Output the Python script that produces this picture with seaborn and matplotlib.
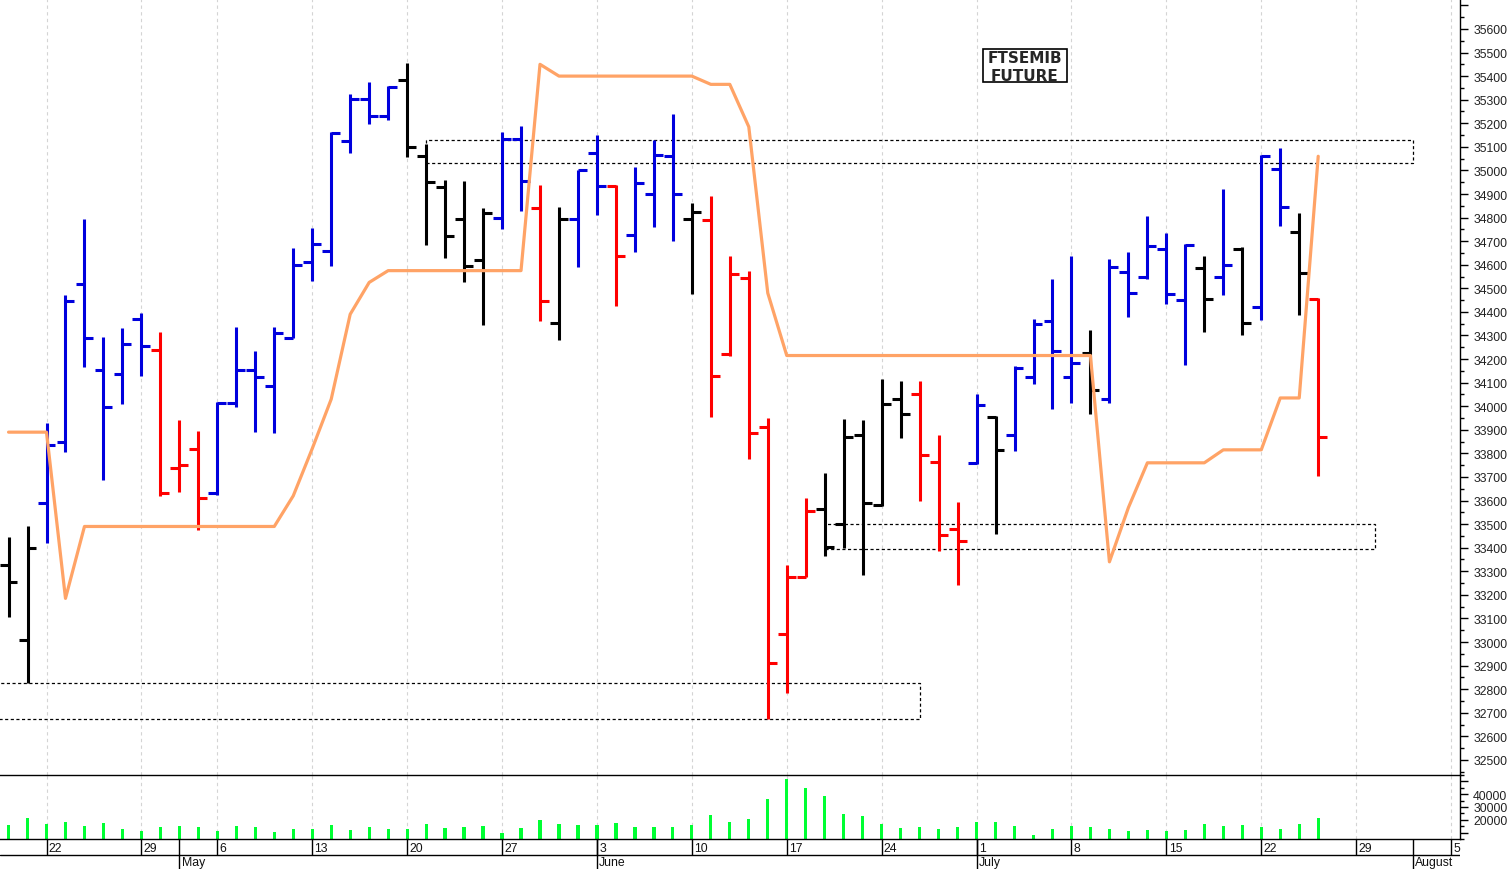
import numpy as np
import pandas as pd
import matplotlib
matplotlib.use("Agg")
import matplotlib.pyplot as plt
from matplotlib.patches import Rectangle
import seaborn as sns

sns.set_style("white")
plt.rcParams["font.family"] = ["Liberation Sans", "DejaVu Sans"]

# trading days (Borsa closed on 1 May)
holidays = ["2024-05-01"]
dates = pd.bdate_range("2024-04-18", "2024-07-25", freq="C", holidays=holidays)

opens = [33325, 33010, 33590, 33850, 34520, 34155, 34135, 34370, 34240, 33740,
         33820, 33630, 34015, 34155, 34085, 34290, 34610, 34660, 35125, 35305,
         35230, 35385, 35060, 34930, 34795, 34620, 34800, 35135, 34840, 34355,
         34795, 35075, 34935, 34725, 34900, 35060, 34795, 34790, 34220, 34545,
         33910, 33035, 33275, 33565, 33500, 33880, 33580, 34030, 34050, 33765,
         33480, 33760, 33955, 33880, 34125, 34360, 34125, 34225, 34030, 34570,
         34550, 34665, 34450, 34585, 34550, 34665, 34420, 35005, 34740, 34455]
highs = [33445, 33490, 33930, 34470, 34795, 34295, 34330, 34395, 34315, 33940,
         33895, 34020, 34335, 34235, 34335, 34670, 34755, 35165, 35325, 35375,
         35360, 35455, 35110, 34960, 34955, 34840, 35165, 35190, 34940, 34845,
         35000, 35150, 34940, 35015, 35130, 35240, 34860, 34890, 34635, 34575,
         33950, 33325, 33610, 33715, 33945, 33940, 34115, 34105, 34105, 33880,
         33595, 34050, 33960, 34170, 34370, 34540, 34635, 34325, 34625, 34655,
         34805, 34735, 34690, 34635, 34920, 34675, 35065, 35095, 34820, 34460]
lows = [33105, 32825, 33420, 33805, 34165, 33685, 34010, 34130, 33620, 33635,
        33475, 33625, 33995, 33890, 33885, 34290, 34530, 34595, 35075, 35195,
        35215, 35055, 34685, 34630, 34525, 34345, 34750, 34830, 34360, 34280,
        34590, 34810, 34425, 34655, 34760, 34700, 34475, 33955, 34215, 33775,
        32675, 32785, 33275, 33365, 33400, 33285, 33575, 33865, 33600, 33385,
        33240, 33755, 33460, 33810, 34095, 33990, 34015, 33965, 34015, 34380,
        34540, 34435, 34175, 34315, 34470, 34300, 34365, 34765, 34385, 33705]
closes = [33255, 33400, 33835, 34445, 34290, 33995, 34265, 34255, 33630, 33750,
          33610, 34015, 34155, 34125, 34310, 34600, 34690, 35160, 35305, 35230,
          35355, 35100, 34950, 34720, 34595, 34820, 35135, 34955, 34445, 34795,
          35000, 34935, 34635, 34945, 35065, 34900, 34825, 34130, 34560, 33885,
          32910, 33275, 33555, 33405, 33870, 33590, 34010, 33965, 33795, 33455,
          33430, 34005, 33815, 34160, 34350, 34235, 34185, 34070, 34590, 34480,
          34680, 34475, 34685, 34455, 34600, 34355, 35060, 34845, 34565, 33870]
trend = (["flat"] * 2 + ["up"] * 6 + ["down"] * 3 + ["up"] * 10 + ["flat"] * 5
         + ["up", "up", "down", "flat", "up", "up", "down", "up", "up", "up", "flat"]
         + ["down"] * 6 + ["flat"] * 5 + ["down"] * 3
         + ["up", "flat", "up", "up", "up", "up", "flat", "up", "up", "up", "up",
            "up", "flat", "up", "flat", "up", "up", "flat", "down"])
stop = [33890, 33890, 33890, 33185, 33490, 33490, 33490, 33490, 33490, 33490,
        33490, 33490, 33490, 33490, 33490, 33620, 33820, 34030, 34390, 34525,
        34575, 34575, 34575, 34575, 34575, 34575, 34575, 34575, 35450, 35400,
        35400, 35400, 35400, 35400, 35400, 35400, 35400, 35365, 35365, 35185,
        34480, 34215, 34215, 34215, 34215, 34215, 34215, 34215, 34215, 34215,
        34215, 34215, 34215, 34215, 34215, 34215, 34215, 34215, 33340, 33570,
        33760, 33760, 33760, 33760, 33815, 33815, 33815, 34035, 34035, 35060]
volume = [15600, 21700, 17100, 18000, 14900, 17300, 12900, 11400, 14100, 14900,
          14100, 10900, 14900, 14100, 10700, 12600, 12600, 15600, 11900, 14100,
          12900, 12900, 17100, 13400, 14300, 14900, 9700, 13400, 20200, 17100,
          15600, 15600, 17300, 14600, 14100, 14300, 16000, 23900, 18000, 21000,
          35900, 51800, 45200, 38600, 24400, 23200, 16800, 13400, 14100, 12900,
          14100, 18000, 18000, 14900, 8200, 12600, 15100, 14100, 12600, 11200,
          12100, 11200, 11900, 16800, 14900, 15600, 14100, 12900, 17100, 21700]

zone_start = ["2024-04-15", "2024-05-21", "2024-06-19"]
zone_end = ["2024-06-26", "2024-08-01", "2024-07-30"]
zone_low = [32675, 35030, 33395]
zone_high = [32825, 35130, 33500]

month_start = ["2024-05-02", "2024-06-03", "2024-07-01", "2024-08-01"]
month_name = ["May", "June", "July", "August"]

trend_colors = {"up": "#0000DD", "down": "#FF0000", "flat": "#000000"}

t0 = np.datetime64("2024-04-18")


def pos(d):
    d = np.asarray(pd.to_datetime(list(d)).values, dtype="datetime64[D]")
    return np.busday_count(t0, d, holidays=holidays)


df = pd.DataFrame({"date": dates, "open": opens, "high": highs, "low": lows,
                   "close": closes, "trend": trend, "stop": stop, "volume": volume})
df["x"] = pos(df["date"])
colors = df["trend"].map(trend_colors).tolist()

mondays = pd.date_range("2024-04-22", "2024-08-05", freq="W-MON")
wx = pos(mondays)
mx = pos(month_start)

W, H = 1508, 870
fig = plt.figure(figsize=(W / 100, H / 100), dpi=100)


def px_axes(x0, y0, x1, y1):
    return fig.add_axes([x0 / W, 1 - y1 / H, (x1 - x0) / W, (y1 - y0) / H])


ax = px_axes(0, 0, 1460, 776)
axv = px_axes(0, 776, 1460, 840)
axd = px_axes(0, 840, 1460, 870)
xlim = (-0.45, 76.47)

# price panel
for a in (ax, axv):
    a.set_xticks(wx)
    a.grid(axis="x", color="#D4D4D4", linestyle=(0, (3, 3)), lw=0.8)
    a.grid(axis="y", visible=False)
    a.set_axisbelow(True)
    a.tick_params(axis="x", bottom=False, labelbottom=False)

zx0, zx1 = pos(zone_start), pos(zone_end)
for x0, x1, lo, hi in zip(zx0, zx1, zone_low, zone_high):
    ax.add_patch(Rectangle((x0, lo), x1 - x0, hi - lo, fill=False, ec="black",
                           lw=0.9, ls=(0, (2.5, 2)), zorder=1))

vl = ax.vlines(df["x"], df["low"], df["high"], colors=colors, lw=2.2, zorder=2)
vl.set_capstyle("butt")
ax.hlines(df["open"], df["x"] - 0.47, df["x"], colors=colors, lw=2.2, zorder=2)
ax.hlines(df["close"], df["x"], df["x"] + 0.47, colors=colors, lw=2.2, zorder=2)
sns.lineplot(x=df["x"], y=df["stop"], ax=ax, color="#FFA366", lw=2.3, zorder=3)

ax.set_xlim(*xlim)
ax.set_ylim(32436, 35727)
ax.set_xlabel("")
ax.set_ylabel("")
ax.yaxis.tick_right()
yt = np.arange(32500, 35701, 100)
ax.set_yticks(yt, [str(v) if v <= 35600 else "" for v in yt])
ax.set_yticks(np.arange(32450, 35701, 50), minor=True)
for sp in ("top", "left", "bottom"):
    ax.spines[sp].set_visible(False)
ax.spines["right"].set_color("black")
ax.spines["right"].set_linewidth(1)
ax.tick_params(axis="y", which="major", direction="out", length=6, width=1,
               color="black", pad=3.5, labelsize=8.8, labelcolor="#222222",
               right=True, left=False)
ax.tick_params(axis="y", which="minor", direction="out", length=3, width=1,
               color="black", right=True, left=False)

# volume panel
sns.barplot(x=df["x"], y=df["volume"], ax=axv, native_scale=True, color="#00FF33",
            saturation=1, width=0.17, errorbar=None, linewidth=0)
axv.set_xticks(wx)
axv.tick_params(axis="x", bottom=False, labelbottom=False)
axv.set_xlim(*xlim)
axv.set_ylim(7720, 54780)
axv.set_xlabel("")
axv.set_ylabel("")
axv.yaxis.tick_right()
vt = [10000, 20000, 30000, 40000, 50000]
axv.set_yticks(vt, ["", "20000", "30000", "40000", ""])
axv.set_yticks(np.arange(5000, 55001, 5000), minor=True)
axv.spines["left"].set_visible(False)
for sp in ("top", "bottom", "right"):
    axv.spines[sp].set_color("black")
    axv.spines[sp].set_linewidth(1)
axv.tick_params(axis="y", which="major", direction="out", length=6, width=1,
                color="black", pad=3.5, labelsize=8.8, labelcolor="#222222",
                right=True, left=False)
axv.tick_params(axis="y", which="minor", direction="out", length=3, width=1,
                color="black", right=True, left=False)

# date rows
axd.set_xlim(*xlim)
axd.set_ylim(0, 1)
axd.axis("off")
axd.axhline(0.467, color="black", lw=1)
axd.vlines(wx, 0.467, 1, color="black", lw=1)
for x, d in zip(wx, mondays.day):
    axd.text(x + 0.12, 0.71, str(d), ha="left", va="center", fontsize=8.8,
             color="#111111")
axd.vlines(mx, 0, 1, color="black", lw=1)
for x, m in zip(mx, month_name):
    axd.text(x + 0.12, 0.22, m, ha="left", va="center", fontsize=8.8,
             color="#111111")

# title box
fig.add_artist(Rectangle((983 / W, 1 - 83.3 / H), 83.5 / W, 33.3 / H,
                         transform=fig.transFigure, fc="white", ec="black",
                         lw=1.2, zorder=10))
fig.text(1025 / W, 1 - 62.7 / H, "FTSEMIB", ha="center", va="baseline",
         fontsize=11, fontweight="bold", family="DejaVu Sans", zorder=11)
fig.text(1025 / W, 1 - 81 / H, "FUTURE", ha="center", va="baseline",
         fontsize=11, fontweight="bold", family="DejaVu Sans", zorder=11)

fig.savefig("out.png", dpi=100, facecolor="white")
